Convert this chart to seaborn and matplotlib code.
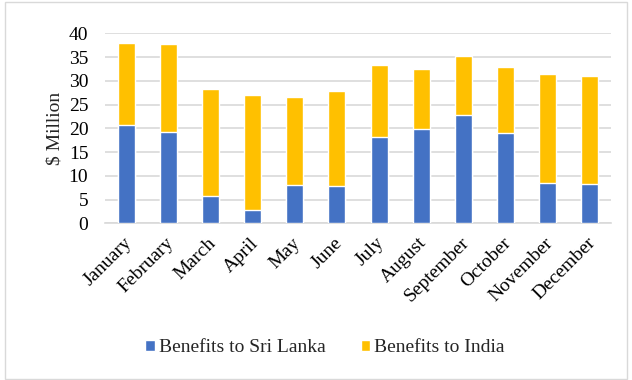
import matplotlib
matplotlib.use("Agg")
import matplotlib.pyplot as plt
import seaborn as sns
import pandas as pd
from matplotlib.patches import Rectangle
from matplotlib.transforms import ScaledTranslation

months = ["January", "February", "March", "April", "May", "June", "July",
          "August", "September", "October", "November", "December"]
sri_lanka = [20.7, 19.3, 5.8, 2.7, 8.1, 7.9, 18.2, 19.8, 22.8, 19.1, 8.5, 8.3]
india = [17.3, 18.4, 22.5, 24.3, 18.5, 19.9, 15.1, 12.7, 12.5, 13.9, 22.9, 22.7]
yticks = [0, 5, 10, 15, 20, 25, 30, 35, 40]

sns.set_theme(style="white")
plt.rcParams['font.family'] = ['Liberation Serif', 'DejaVu Serif']

df = pd.DataFrame({"month": months, "sl": sri_lanka, "india": india})
df["total"] = df["sl"] + df["india"]

fig = plt.figure(figsize=(6.32, 3.8), dpi=100)
ax = fig.add_axes([105/632, 1 - 223.3/380, (611-105)/632, (223.3-33.3)/380])

blue = "#4472C4"
gold = "#FFC000"
sns.barplot(data=df, x="month", y="total", color=gold, width=0.4, ax=ax,
            saturation=1, label="Benefits to India", zorder=2)
sns.barplot(data=df, x="month", y="sl", color=blue, width=0.4, ax=ax,
            saturation=1, label="Benefits to Sri Lanka", zorder=3)

handles, labels = ax.get_legend_handles_labels()
if ax.get_legend() is not None:
    ax.get_legend().remove()

FS = 14
ax.set_ylim(0, 40)
ax.set_xlim(-0.5, 11.5)
ax.set_yticks(yticks)
ax.set_yticklabels([str(t) for t in yticks], fontsize=FS)
ax.yaxis.grid(True, color="#D9D9D9", linewidth=1.2, zorder=0)
ax.set_axisbelow(True)
for s in ["top", "right", "left"]:
    ax.spines[s].set_visible(False)
ax.spines["bottom"].set_color("#D9D9D9")
ax.spines["bottom"].set_linewidth(1.2)
ax.tick_params(axis="y", length=0, pad=12, colors="black")
ax.tick_params(axis="x", length=0, pad=8, colors="black")
ax.set_xticks(range(len(months)))
ax.set_xticklabels(months, rotation=45, ha="right", rotation_mode="anchor",
                   fontsize=FS)
shift = ScaledTranslation(-3/100, 0, fig.dpi_scale_trans)
for lbl in ax.get_xticklabels():
    lbl.set_transform(lbl.get_transform() + shift)
ax.set_xlabel("")
ax.set_ylabel("\\$ Million", fontsize=FS, labelpad=4)

order = [labels.index("Benefits to Sri Lanka"), labels.index("Benefits to India")]
fig.legend([handles[i] for i in order], [labels[i] for i in order],
           loc="center", bbox_to_anchor=(325/632, 1 - 348/380), ncol=2,
           frameon=False, fontsize=FS, handlelength=0.5, handleheight=0.5,
           handletextpad=0.2, columnspacing=1.8)

fig.patches.append(Rectangle((5/632, 1/380), 622/632, 377/380,
                             transform=fig.transFigure, fill=False,
                             edgecolor="#D9D9D9", linewidth=1.0))

fig.savefig("out.png", dpi=100)
